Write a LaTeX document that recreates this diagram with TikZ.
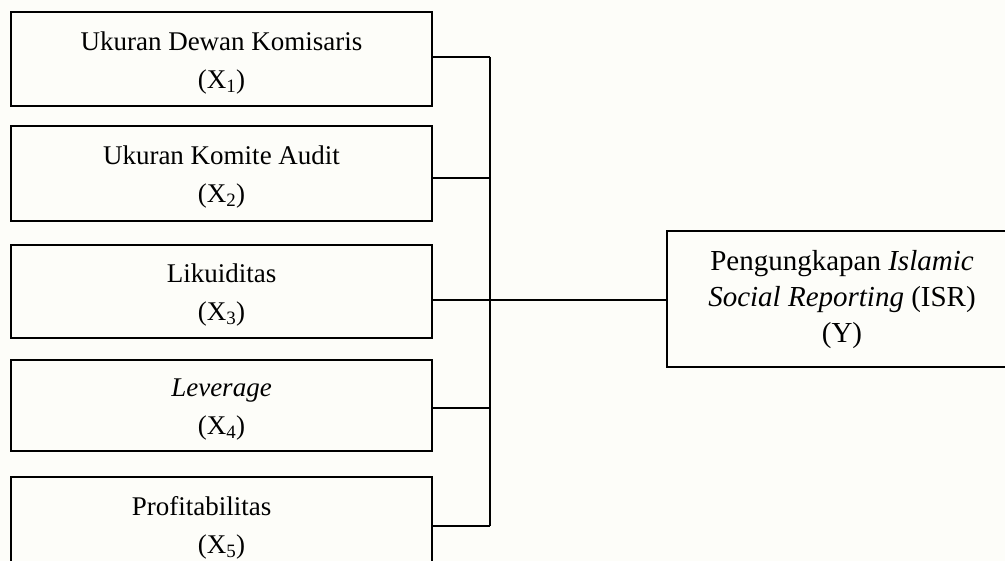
\documentclass[tikz,border=0pt]{standalone}
\usepackage{fontspec}
\setmainfont{Liberation Serif}
\definecolor{bg}{HTML}{FDFDF9}
\begin{document}
\begin{tikzpicture}[x=1pt,y=-1pt,
  box/.style={draw=black,line width=1.5pt,inner sep=0pt},
  txt/.style={align=center,inner sep=0pt,yshift=-4pt,font=\fontsize{27}{38}\selectfont},
  ytxt/.style={align=center,inner sep=0pt,yshift=-1pt,font=\fontsize{29}{36}\selectfont},
  link/.style={draw=black,line width=1.5pt}]
\fill[bg] (0,0) rectangle (1005,561);
\useasboundingbox (0,0) rectangle (1005,561);
\node[box,minimum width=421pt,minimum height=94pt,label={[txt]center:Ukuran Dewan Komisaris\\(X\textsubscript{1})}] (b1) at (221.5,59) {};
\node[box,minimum width=421pt,minimum height=95pt,label={[txt]center:Ukuran Komite Audit\\(X\textsubscript{2})}] (b2) at (221.5,173.5) {};
\node[box,minimum width=421pt,minimum height=93pt,label={[txt]center:Likuiditas\\(X\textsubscript{3})}] (b3) at (221.5,291.5) {};
\node[box,minimum width=421pt,minimum height=91pt,label={[txt]center:\textit{Leverage}\\(X\textsubscript{4})}] (b4) at (221.5,405.5) {};
\node[box,minimum width=421pt,minimum height=94pt,label={[txt]center:Profitabilitas\hspace*{40pt}\\(X\textsubscript{5})}] (b5) at (221.5,524) {};
\node[box,minimum width=350pt,minimum height=136pt,label={[ytxt]center:Pengungkapan \textit{Islamic}\\\textit{Social Reporting} (ISR)\\(Y)}] (y) at (842,299) {};
\coordinate (j1) at (490,57);
\coordinate (j2) at (490,178);
\coordinate (j3) at (490,300);
\coordinate (j4) at (490,408);
\coordinate (j5) at (490,526);
\draw[link] (b1.east |- j1) -- (j1);
\draw[link] (b2.east |- j2) -- (j2);
\draw[link] (b3.east |- j3) -- (j3);
\draw[link] (b4.east |- j4) -- (j4);
\draw[link] (b5.east |- j5) -- (j5);
\draw[link] (j1) -- (j5);
\draw[link] (j3) -- (y.west |- j3);
\end{tikzpicture}
\end{document}
